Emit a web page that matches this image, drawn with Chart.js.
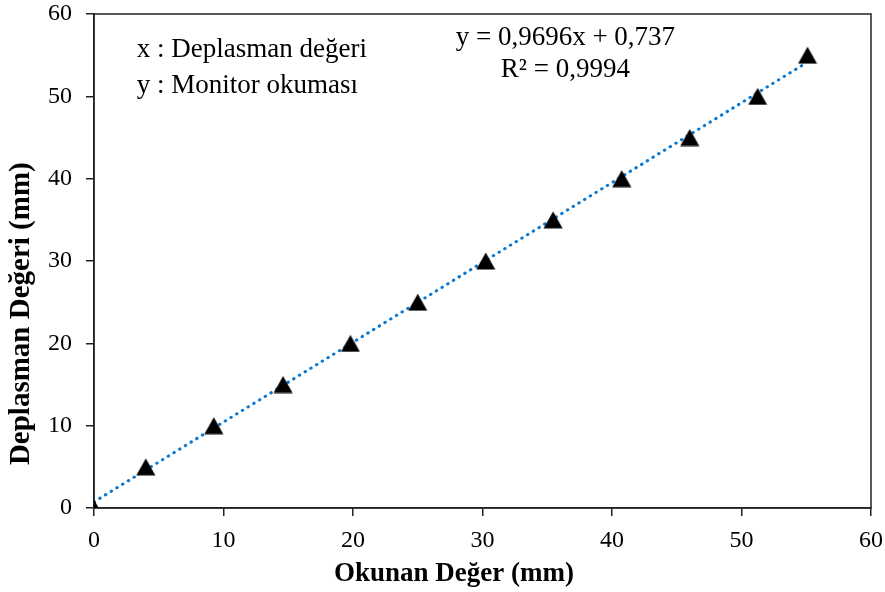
<!DOCTYPE html>
<html>
<head>
<meta charset="utf-8">
<script src="https://cdn.jsdelivr.net/npm/chart.js@4"></script>
<style>
    html, body { margin: 0; padding: 0; background: #fff; }
    #wrap { width: 885px; height: 592px; }
</style>
</head>
<body>
<div id="wrap"><canvas id="chart"></canvas></div>
<script>
const okunan = [0, 4, 9.25, 14.6, 19.8, 25, 30.25, 35.45, 40.75, 46, 51.25, 55.1];
const deplasman = [0, 5, 10, 15, 20, 25, 30, 35, 40, 45, 50, 55];

const trendX = [0, 55];
const trendY = [0.74, 54.07];

const noteLeft = ['x : Deplasman değeri', 'y : Monitor okuması'];
const noteRight = ['y = 0,9696x + 0,737', 'R² = 0,9994'];
const xTitle = 'Okunan Değer (mm)';
const yTitle = 'Deplasman Değeri (mm)';

const serif = "'Liberation Serif', 'Times New Roman', serif";

// triangle marker centred on its box, like the spreadsheet marker
const tri = document.createElement('canvas');
tri.width = 20;
tri.height = 18;
const tctx = tri.getContext('2d');
tctx.fillStyle = '#000';
tctx.beginPath();
tctx.moveTo(10, 0.5);
tctx.lineTo(19.5, 17.5);
tctx.lineTo(0.5, 17.5);
tctx.closePath();
tctx.fill();

const frame = {
    id: 'frame',
    beforeDatasetsDraw(chart) {
        const a = chart.chartArea;
        const ctx = chart.ctx;
        ctx.save();
        ctx.strokeStyle = '#222';
        ctx.lineWidth = 1.5;
        ctx.strokeRect(a.left, a.top, a.right - a.left, a.bottom - a.top);
        ctx.restore();
    },
    afterDraw(chart) {
        const ctx = chart.ctx;
        const xs = chart.scales.x;
        const ys = chart.scales.y;
        ctx.save();
        ctx.fillStyle = '#000';
        ctx.font = '27px ' + serif;
        ctx.textBaseline = 'middle';
        ctx.textAlign = 'left';
        ctx.fillText(noteLeft[0], xs.getPixelForValue(3.3), ys.getPixelForValue(55.6));
        ctx.fillText(noteLeft[1], xs.getPixelForValue(3.3), ys.getPixelForValue(51.3));
        ctx.textAlign = 'center';
        ctx.fillText(noteRight[0], xs.getPixelForValue(36.4), ys.getPixelForValue(57.1));
        ctx.fillText(noteRight[1], xs.getPixelForValue(36.4), ys.getPixelForValue(53.2));

        // axis titles, a little off the centre of the plot as in the original
        ctx.font = 'bold 27px ' + serif;
        ctx.fillText(xTitle, xs.getPixelForValue(27.8), xs.bottom - 18);
        ctx.translate(ys.left + 22, ys.getPixelForValue(23.6));
        ctx.rotate(-Math.PI / 2);
        ctx.font = 'bold 29px ' + serif;
        ctx.fillText(yTitle, 0, 0);
        ctx.restore();
    }
};

const data = {
    datasets: [
        {
            label: 'trend',
            data: trendX.map((x, i) => ({ x: x, y: trendY[i] })),
            showLine: true,
            borderColor: '#0a78d0',
            borderWidth: 3,
            borderDash: [0.5, 6.2],
            borderCapStyle: 'round',
            pointRadius: 0,
            order: 2
        },
        {
            label: 'points',
            data: okunan.map((x, i) => ({ x: x, y: deplasman[i] })),
            showLine: false,
            pointStyle: tri,
            pointRadius: 10,
            order: 1
        }
    ]
};

const options = {
    responsive: true,
    maintainAspectRatio: false,
    animation: false,
    events: [],
    layout: {
        padding: { top: 14, right: 14, left: 0, bottom: 0 }
    },
    scales: {
        x: {
            type: 'linear',
            min: 0,
            max: 60,
            afterFit: (s) => {
                s.height = 84;
                s.paddingLeft = 0;
                s.paddingRight = 0;
            },
            grid: {
                drawOnChartArea: false,
                drawTicks: true,
                tickLength: 8,
                color: '#222',
                lineWidth: 1.5
            },
            border: { color: '#222', width: 1.5 },
            ticks: {
                stepSize: 10,
                color: '#000',
                padding: 10,
                font: { family: serif, size: 24 }
            }
        },
        y: {
            type: 'linear',
            min: 0,
            max: 60,
            afterFit: (s) => {
                s.width = 94;
                s.paddingTop = 0;
                s.paddingBottom = 0;
            },
            grid: {
                drawOnChartArea: false,
                drawTicks: true,
                tickLength: 8,
                color: '#222',
                lineWidth: 1.5
            },
            border: { color: '#222', width: 1.5 },
            ticks: {
                stepSize: 10,
                color: '#000',
                padding: 14,
                font: { family: serif, size: 24 }
            }
        }
    },
    plugins: {
        legend: { display: false },
        tooltip: { enabled: false }
    }
};

const chart = new Chart(document.getElementById('chart'), {
    type: 'scatter',
    data: data,
    options: options,
    plugins: [frame]
});
</script>
</body>
</html>
